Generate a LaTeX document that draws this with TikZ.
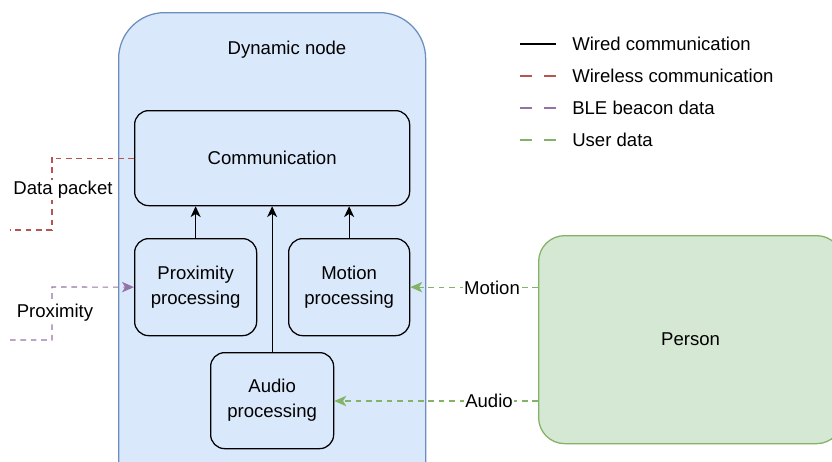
\documentclass[tikz,border=0pt]{standalone}
\usepackage{fontspec}
\setmainfont{Liberation Sans}
\usetikzlibrary{arrows.meta}
\definecolor{dynfill}{HTML}{DAE8FC}
\definecolor{dynline}{HTML}{6C8EBF}
\definecolor{usrfill}{HTML}{D5E8D4}
\definecolor{usrline}{HTML}{82B366}
\definecolor{wlline}{HTML}{B85450}
\definecolor{bleline}{HTML}{9673A6}
\begin{document}
\begin{tikzpicture}[x=0.025cm,y=-0.025cm,
  font=\fontsize{13.2}{17.8}\selectfont,
  block/.style={draw, line width=0.9pt, rounded corners=0.35cm, align=center, anchor=north west, inner sep=0pt},
  lbl/.style={fill=white, inner sep=1pt},
  wired/.style={draw, line width=0.9pt, -{Stealth[length=2.7mm,width=2.5mm,inset=0.8mm]}},
  dsh/.style={draw, line width=0.8pt, dash pattern=on 0.14cm off 0.12cm}]
\useasboundingbox (0,0) rectangle (832,461);
% containers
\node[draw=dynline, fill=dynfill, line width=0.9pt, rounded corners=1.15cm, anchor=north west,
  minimum width=307*0.025cm, minimum height=500*0.025cm] (dyn) at (118,12) {};
\node (dyntitle) at (287,50) {Dynamic node};
\node[draw=usrline, fill=usrfill, line width=0.9pt, rounded corners=0.65cm, anchor=north west,
  minimum width=304*0.025cm, minimum height=208*0.025cm] (person) at (538,235) {Person};
% blocks
\node[block, minimum width=275*0.025cm, minimum height=95*0.025cm] (comm) at (134,110) {Communication};
\node[block, minimum width=122*0.025cm, minimum height=97*0.025cm] (prox) at (134,238) {Proximity\\processing};
\node[block, minimum width=121*0.025cm, minimum height=97*0.025cm] (motion) at (288,238) {Motion\\processing};
\node[block, minimum width=123*0.025cm, minimum height=96*0.025cm] (audio) at (210,352) {Audio\\processing};
% wired
\path[wired] (prox.north) -- (prox.north |- comm.south);
\path[wired] (motion.north) -- (motion.north |- comm.south);
\path[wired] (audio.north) -- (audio.north |- comm.south);
% outside links
\coordinate (dpend) at (10,230);
\coordinate (pxend) at (10,340);
\path[dsh, draw=wlline] (comm.west) -| (52,157) -- (52,230) -- (dpend);
\node[lbl] (dplbl) at (63,190) {Data packet};
\path[dsh, draw=bleline, -{Stealth[length=3mm,width=2.6mm,inset=0.8mm,fill=bleline]}] (pxend) -- (52,340) -- (52,287) -- (prox.west);
\node[lbl] (pxlbl) at (55,313) {Proximity};
\path[dsh, draw=usrline, -{Stealth[length=3mm,width=2.6mm,inset=0.8mm,fill=usrline]}] (person.west |- motion.east) -- (motion.east);
\node[lbl] (mtlbl) at (492,288) {Motion};
\path[dsh, draw=usrline, -{Stealth[length=3mm,width=2.6mm,inset=0.8mm,fill=usrline]}] (538,401) -- (audio.east |- 0,401);
\node[lbl] (aulbl) at (489,401) {Audio};
% legend
\foreach \y/\c/\t [count=\i] in {44/black/Wired communication, 76/wlline/Wireless communication, 108/bleline/BLE beacon data, 140/usrline/User data} {
  \coordinate (lg\i a) at (520,\y);
  \coordinate (lg\i b) at (556,\y);
  \node[anchor=west, inner sep=0pt] (lgt\i) at (572,\y) {\t};
}
\path[draw, line width=2pt] (lg1a) -- (lg1b);
\path[draw=wlline, line width=2pt, dash pattern=on 0.3cm off 0.3cm] (lg2a) -- (lg2b);
\path[draw=bleline, line width=2pt, dash pattern=on 0.3cm off 0.3cm] (lg3a) -- (lg3b);
\path[draw=usrline, line width=2pt, dash pattern=on 0.3cm off 0.3cm] (lg4a) -- (lg4b);
\end{tikzpicture}
\end{document}
